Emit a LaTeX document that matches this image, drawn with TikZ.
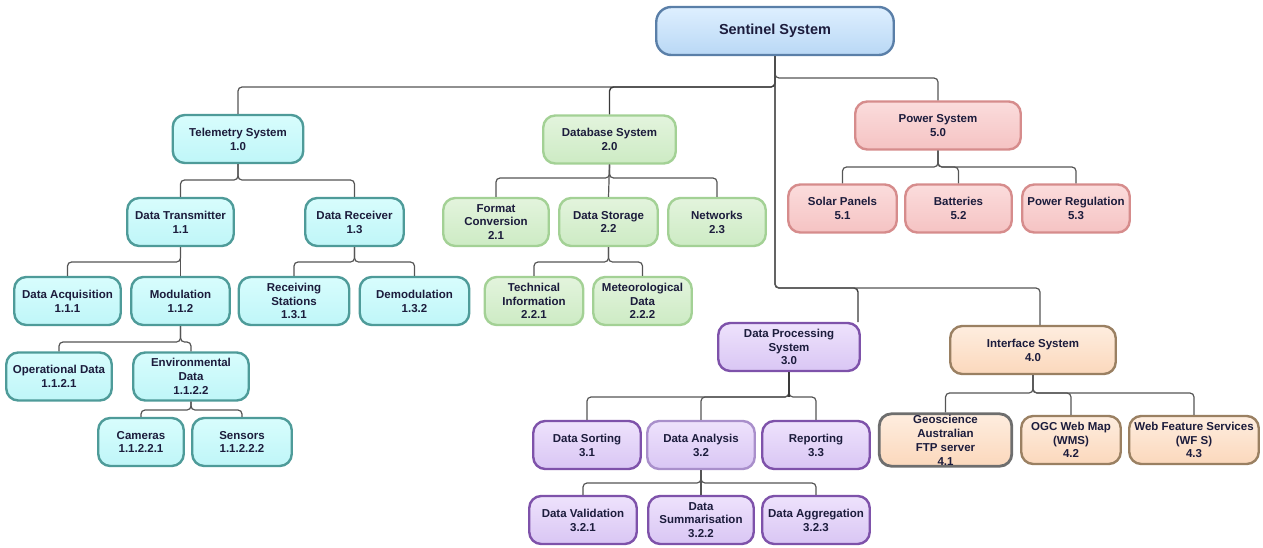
\documentclass[tikz,border=0pt]{standalone}
\usepackage{fontspec}
\setmainfont{Liberation Sans}
\usetikzlibrary{calc}

\definecolor{txt}{HTML}{1C1C3C}
\definecolor{cn}{HTML}{555555}
\definecolor{cnD}{HTML}{3A3A3A}
% sentinel (blue)
\definecolor{blT}{HTML}{DEEFFF}\definecolor{blB}{HTML}{B9D8F5}\definecolor{blD}{HTML}{5A7FA8}
% telemetry (cyan)
\definecolor{cyT}{HTML}{D8FDFD}\definecolor{cyB}{HTML}{BFF6F8}\definecolor{cyD}{HTML}{4E9B99}
% database (green)
\definecolor{grT}{HTML}{E3F4DD}\definecolor{grB}{HTML}{CDEBC4}\definecolor{grD}{HTML}{A3D195}
% power (pink)
\definecolor{pkT}{HTML}{FBDCDC}\definecolor{pkB}{HTML}{F5C3C3}\definecolor{pkD}{HTML}{D68C8C}
% processing (purple)
\definecolor{puT}{HTML}{EEE2FC}\definecolor{puB}{HTML}{D9C6F4}\definecolor{puD}{HTML}{7E52AA}\definecolor{puL}{HTML}{A98FCB}
% interface (peach)
\definecolor{orT}{HTML}{FEEDDF}\definecolor{orB}{HTML}{FBD8BC}\definecolor{orD}{HTML}{9A8062}\definecolor{orG}{HTML}{6E6E6E}

\tikzset{
  box/.style={rounded corners=12pt, line width=2.4pt, align=center,
    font=\bfseries\fontsize{11.5}{13.8}\selectfont, text=txt,
    minimum height=48pt, inner sep=1pt},
  blbox/.style={box, draw=blD, top color=blT, bottom color=blB, rounded corners=15pt,
    font=\bfseries\fontsize{14.5}{17}\selectfont},
  cybox/.style={box, draw=cyD, top color=cyT, bottom color=cyB},
  grbox/.style={box, draw=grD, top color=grT, bottom color=grB},
  pkbox/.style={box, draw=pkD, top color=pkT, bottom color=pkB},
  pubox/.style={box, draw=puD, top color=puT, bottom color=puB},
  orbox/.style={box, draw=orD, top color=orT, bottom color=orB},
  conn/.style={draw=cn, line width=1.2pt, rounded corners=4pt},
  trunk/.style={draw=cnD, line width=1.4pt, rounded corners=4pt},
}

\begin{document}
\begin{tikzpicture}[x=1pt,y=-1pt]
\useasboundingbox (0,0) rectangle (1263,547);

% ---- boxes ----
\node[blbox, minimum width=237.5pt] (sen) at (775,31) {Sentinel System};

\node[cybox, minimum width=130.5pt] (tel) at (238,139) {Telemetry System\\1.0};
\node[grbox, minimum width=132.5pt] (db)  at (609.5,139.5) {Database System\\2.0};
\node[pkbox, minimum width=165.5pt] (pow) at (938,125.5) {Power System\\5.0};

\node[cybox, minimum width=106.5pt] (dt) at (180.5,222) {Data Transmitter\\1.1};
\node[cybox, minimum width=98.5pt]  (dr) at (354.5,222) {Data Receiver\\1.3};
\node[grbox, minimum width=105.5pt] (fc) at (496,222) {Format\\Conversion\\2.1};
\node[grbox, minimum width=98.5pt]  (ds) at (608.5,222) {Data Storage\\2.2};
\node[grbox, minimum width=97.5pt]  (nw) at (717,222) {Networks\\2.3};
\node[pkbox, minimum width=108.5pt] (sp) at (842.5,208.5) {Solar Panels\\5.1};
\node[pkbox, minimum width=106.5pt] (bt) at (958.5,208.5) {Batteries\\5.2};
\node[pkbox, minimum width=107.5pt] (pr) at (1076,208.5) {Power Regulation\\5.3};

\node[cybox, minimum width=106.5pt] (da) at (67.5,301) {Data Acquisition\\1.1.1};
\node[cybox, minimum width=98.5pt]  (mo) at (180.5,301) {Modulation\\1.1.2};
\node[cybox, minimum width=110.5pt] (rs) at (294,301) {Receiving\\Stations\\1.3.1};
\node[cybox, minimum width=109.5pt] (dm) at (414.5,301) {Demodulation\\1.3.2};
\node[grbox, minimum width=98.5pt]  (ti) at (534,301) {Technical\\Information\\2.2.1};
\node[grbox, minimum width=98.5pt]  (md) at (642.5,301) {Meteorological\\Data\\2.2.2};

\node[cybox, minimum width=105.5pt] (od) at (59,376.5) {Operational Data\\1.1.2.1};
\node[cybox, minimum width=115.5pt] (ed) at (191,376.5) {Environmental\\Data\\1.1.2.2};
\node[cybox, minimum width=85.5pt]  (cam) at (141,442) {Cameras\\1.1.2.2.1};
\node[cybox, minimum width=99.5pt]  (sns) at (242,442) {Sensors\\1.1.2.2.2};

\node[pubox, minimum width=141.5pt] (dp) at (789,347) {Data Processing\\System\\3.0};
\node[orbox, minimum width=165.5pt] (is) at (1033,350) {Interface System\\4.0};

\node[pubox, minimum width=107.5pt] (dso) at (587,445) {Data Sorting\\3.1};
\node[pubox, minimum width=107.5pt, draw=puL] (dan) at (701,445) {Data Analysis\\3.2};
\node[pubox, minimum width=107.5pt] (rep) at (816,445) {Reporting\\3.3};
\node[pubox, minimum width=107.5pt] (dv)  at (583,520) {Data Validation\\3.2.1};
\node[pubox, minimum width=105.5pt] (dsu) at (701,520) {Data\\Summarisation\\3.2.2};
\node[pubox, minimum width=107.5pt] (dag) at (816,520) {Data Aggregation\\3.2.3};

\node[orbox, minimum width=132.5pt, draw=orG, line width=2.8pt,
      font=\bfseries\fontsize{11.5}{14}\selectfont] (geo) at (945.5,440)
      {Geoscience\\Australian\\FTP server\\4.1};
\node[orbox, minimum width=99.5pt]  (ogc) at (1071,440) {OGC Web Map\\(WMS)\\4.2};
\node[orbox, minimum width=129.5pt] (wfs) at (1194,440) {Web Feature Services\\(WF S)\\4.3};

% ---- bar levels of the connectors ----
\coordinate (bS)  at (0,87);
\coordinate (bP)  at (0,78);
\coordinate (bL)  at (0,288);
\coordinate (bT)  at (0,180);
\coordinate (bDT) at (0,262);
\coordinate (bDR) at (0,262);
\coordinate (bMO) at (0,342);
\coordinate (bED) at (0,410);
\coordinate (bDB) at (0,178);
\coordinate (bDS) at (0,262);
\coordinate (bPW) at (0,167);
\coordinate (bDP) at (0,397);
\coordinate (bDA) at (0,483);
\coordinate (bIS) at (0,393);
% entry points of the two lower branches
\coordinate (dpin) at (858,322);
\coordinate (isin) at (1040,325);

% ---- connectors from the top node ----
\draw[conn]  (sen.south) -- (sen.south |- bS) -| (tel.north);
\draw[trunk] (sen.south) -- (sen.south |- bS) -| (db.north);
\draw[conn]  (sen.south) -- (sen.south |- bP) -| (pow.north);
\draw[trunk] (sen.south) -- (sen.south |- bL) -| (dpin);
\draw[conn]  (sen.south) -- (sen.south |- bL) -| (isin);

% ---- telemetry ----
\draw[conn] (tel.south) -- (tel.south |- bT) -| (dt.north);
\draw[conn] (tel.south) -- (tel.south |- bT) -| (dr.north);
\draw[conn] (dt.south) -- (dt.south |- bDT) -| (da.north);
\draw[conn] (dt.south) -- (mo.north);
\draw[conn] (dr.south) -- (dr.south |- bDR) -| (rs.north);
\draw[conn] (dr.south) -- (dr.south |- bDR) -| (dm.north);
\draw[conn] (mo.south) -- (mo.south |- bMO) -| (od.north);
\draw[conn] (mo.south) -- (mo.south |- bMO) -| (ed.north);
\draw[conn] (ed.south) -- (ed.south |- bED) -| (cam.north);
\draw[conn] (ed.south) -- (ed.south |- bED) -| (sns.north);

% ---- database ----
\draw[conn] (db.south) -- (db.south |- bDB) -| (fc.north);
\draw[conn] (db.south) -- (ds.north);
\draw[conn] (db.south) -- (db.south |- bDB) -| (nw.north);
\draw[conn] (ds.south) -- (ds.south |- bDS) -| (ti.north);
\draw[conn] (ds.south) -- (ds.south |- bDS) -| (md.north);

% ---- power ----
\draw[conn] (pow.south) -- (pow.south |- bPW) -| (sp.north);
\draw[conn] (pow.south) -- (pow.south |- bPW) -| (bt.north);
\draw[conn] (pow.south) -- (pow.south |- bPW) -| (pr.north);

% ---- processing ----
\draw[conn]  (dp.south) -- (dp.south |- bDP) -| (dso.north);
\draw[conn]  (dp.south) -- (dp.south |- bDP) -| (dan.north);
\draw[conn]  (dp.south) -- (dp.south |- bDP) -| (rep.north);
\draw[trunk] (dp.south) -- (dp.south |- bDP);
\draw[conn]  (dan.south) -- (dan.south |- bDA) -| (dv.north);
\draw[conn]  (dan.south) -- (dsu.north);
\draw[conn]  (dan.south) -- (dan.south |- bDA) -| (dag.north);

% ---- interface ----
\draw[conn] (is.south) -- (is.south |- bIS) -| (geo.north);
\draw[conn] (is.south) -- (is.south |- bIS) -| (ogc.north);
\draw[conn] (is.south) -- (is.south |- bIS) -| (wfs.north);
\end{tikzpicture}
\end{document}
